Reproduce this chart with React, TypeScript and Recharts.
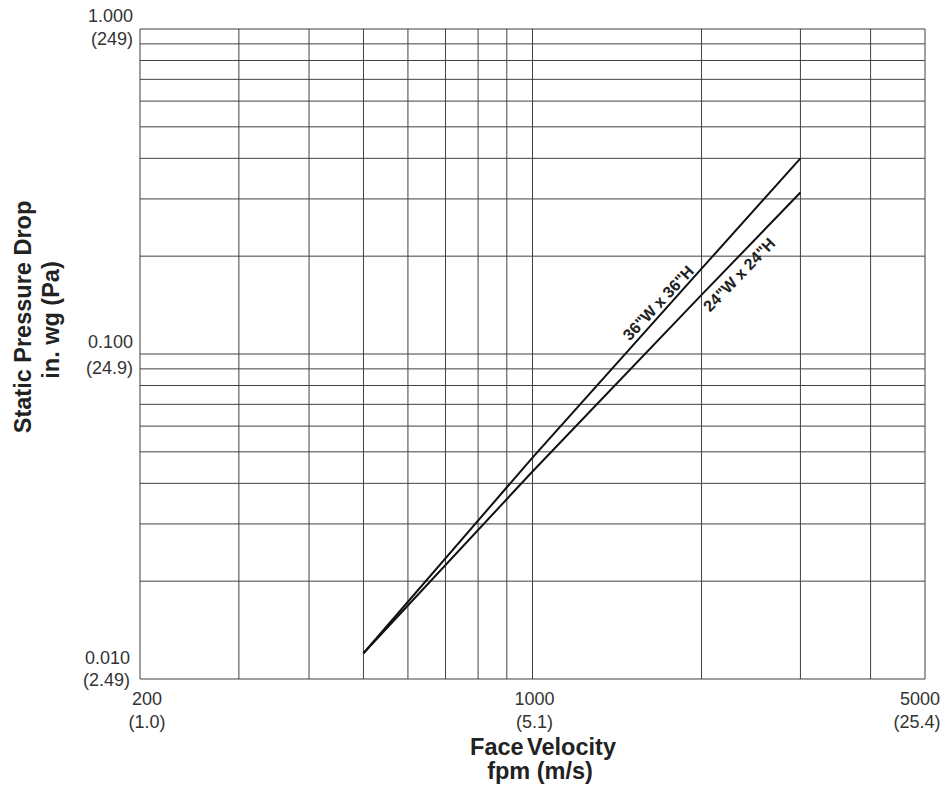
import React from "react";
import {
  LineChart,
  Line,
  XAxis,
  YAxis,
  CartesianGrid,
  ReferenceDot,
} from "recharts";

// Face velocity (fpm) sample points
const velocity = [500, 1000, 2000, 3000];
// Static pressure drop (in. wg) for each filter size
const drop36x36 = [0.012, 0.048, 0.183, 0.4];
const drop24x24 = [0.012, 0.0435, 0.152, 0.314];

const seriesNames = ['36"W x 36"H', '24"W x 24"H'];

// Grid / tick values
const xTicks = [200, 300, 400, 500, 600, 700, 800, 900, 1000, 2000, 3000, 4000, 5000];
const yTicks = [
  0.01, 0.02, 0.03, 0.04, 0.05, 0.06, 0.07, 0.08, 0.09,
  0.1, 0.2, 0.3, 0.4, 0.5, 0.6, 0.7, 0.8, 0.9, 1,
];

// Labelled ticks
const xLabelValues = [200, 1000, 5000];
const xLabelFpm = ["200", "1000", "5000"];
const xLabelMs = ["(1.0)", "(5.1)", "(25.4)"];

const yLabelValues = [1, 0.1, 0.01];
const yLabelIn = ["1.000", "0.100", "0.010"];
const yLabelPa = ["(249)", "(24.9)", "(2.49)"];

// Where the in-chart series labels sit (data coordinates)
const labelVelocity = [1675, 2334];
const labelDrop = [0.1435, 0.1753];

const data = velocity.map((v, i) => ({
  v,
  s36: drop36x36[i],
  s24: drop24x24[i],
}));

// ---- styling (offsets in px) ----
const FONT = "'Liberation Sans', Arial, Helvetica, sans-serif";
const TICK_SIZE = 18;
const TICK_FILL = "#333";
const TITLE_FILL = "#222";
const TITLE_SIZE = 23.5;
const yOffsets = [
  [-7.5, 16],
  [-6, 20],
  [-15, 7],
];
const yRight = [133, 133, 130];
const xOffsets = [
  [7, 7],
  [2, 2],
  [-5, -8],
];
const labelAngles = [-47, -46];

const XTick = (props: any) => {
  const { x, payload } = props;
  const idx = xLabelValues.indexOf(payload.value);
  if (idx < 0) return <g />;
  return (
    <g>
      <text
        x={x + xOffsets[idx][0]}
        y={705}
        textAnchor="middle"
        fontSize={TICK_SIZE}
        fill={TICK_FILL}
        fontFamily={FONT}
      >
        {xLabelFpm[idx]}
      </text>
      <text
        x={x + xOffsets[idx][1]}
        y={728}
        textAnchor="middle"
        fontSize={TICK_SIZE}
        fill={TICK_FILL}
        fontFamily={FONT}
      >
        {xLabelMs[idx]}
      </text>
    </g>
  );
};

const YTick = (props: any) => {
  const { y, payload } = props;
  const idx = yLabelValues.findIndex((v) => Math.abs(v - payload.value) < 1e-9);
  if (idx < 0) return <g />;
  return (
    <g>
      <text
        x={yRight[idx]}
        y={y + yOffsets[idx][0]}
        textAnchor="end"
        fontSize={TICK_SIZE}
        fill={TICK_FILL}
        fontFamily={FONT}
      >
        {yLabelIn[idx]}
      </text>
      <text
        x={yRight[idx]}
        y={y + yOffsets[idx][1]}
        textAnchor="end"
        fontSize={TICK_SIZE}
        fill={TICK_FILL}
        fontFamily={FONT}
      >
        {yLabelPa[idx]}
      </text>
    </g>
  );
};

const XTitle = () => (
  <g>
    <text
      x={543}
      y={755}
      textAnchor="middle"
      fontSize={TITLE_SIZE}
      fontWeight="bold"
      fill={TITLE_FILL}
      fontFamily={FONT}
      wordSpacing={-3}
    >
      Face Velocity
    </text>
    <text
      x={540}
      y={779}
      textAnchor="middle"
      fontSize={TITLE_SIZE}
      fontWeight="bold"
      fill={TITLE_FILL}
      fontFamily={FONT}
    >
      fpm (m/s)
    </text>
  </g>
);

const YTitle = () => (
  <g>
    <text
      x={31}
      y={317}
      transform="rotate(-90, 31, 317)"
      textAnchor="middle"
      fontSize={TITLE_SIZE}
      fontWeight="bold"
      fill={TITLE_FILL}
      fontFamily={FONT}
    >
      Static Pressure Drop
    </text>
    <text
      x={59}
      y={320}
      transform="rotate(-90, 59, 320)"
      textAnchor="middle"
      fontSize={TITLE_SIZE}
      fontWeight="bold"
      fill={TITLE_FILL}
      fontFamily={FONT}
    >
      in. wg (Pa)
    </text>
  </g>
);

const makeLabelShape = (i: number) => (props: any) => {
  const { cx, cy } = props;
  return (
    <text
      x={cx}
      y={cy}
      transform={`rotate(${labelAngles[i]}, ${cx}, ${cy})`}
      textAnchor="middle"
      dominantBaseline="central"
      fontSize={16}
      fontWeight="bold"
      fill={TITLE_FILL}
      fontFamily={FONT}
    >
      {seriesNames[i]}
    </text>
  );
};

export default function App() {
  return (
    <div style={{ position: "absolute", left: 0, top: 0, width: 945, height: 790 }}>
      <LineChart
        width={945}
        height={790}
        data={data}
        margin={{ top: 29, right: 20, bottom: 0, left: 0 }}
        style={{ fontFamily: FONT }}
      >
        <CartesianGrid stroke="#404040" strokeWidth={1} />
        <XAxis
          dataKey="v"
          type="number"
          scale="log"
          domain={[200, 5000]}
          ticks={xTicks}
          interval={0}
          allowDataOverflow
          axisLine={false}
          tickLine={false}
          height={111}
          tick={<XTick />}
          label={<XTitle />}
        />
        <YAxis
          type="number"
          scale="log"
          domain={[0.01, 1]}
          ticks={yTicks}
          interval={0}
          allowDataOverflow
          axisLine={false}
          tickLine={false}
          width={140}
          tick={<YTick />}
          label={<YTitle />}
        />
        <Line
          dataKey="s36"
          stroke="#111"
          strokeWidth={2}
          dot={false}
          isAnimationActive={false}
        />
        <Line
          dataKey="s24"
          stroke="#111"
          strokeWidth={2}
          dot={false}
          isAnimationActive={false}
        />
        <ReferenceDot
          x={labelVelocity[0]}
          y={labelDrop[0]}
          r={0}
          shape={makeLabelShape(0)}
        />
        <ReferenceDot
          x={labelVelocity[1]}
          y={labelDrop[1]}
          r={0}
          shape={makeLabelShape(1)}
        />
      </LineChart>
    </div>
  );
}
